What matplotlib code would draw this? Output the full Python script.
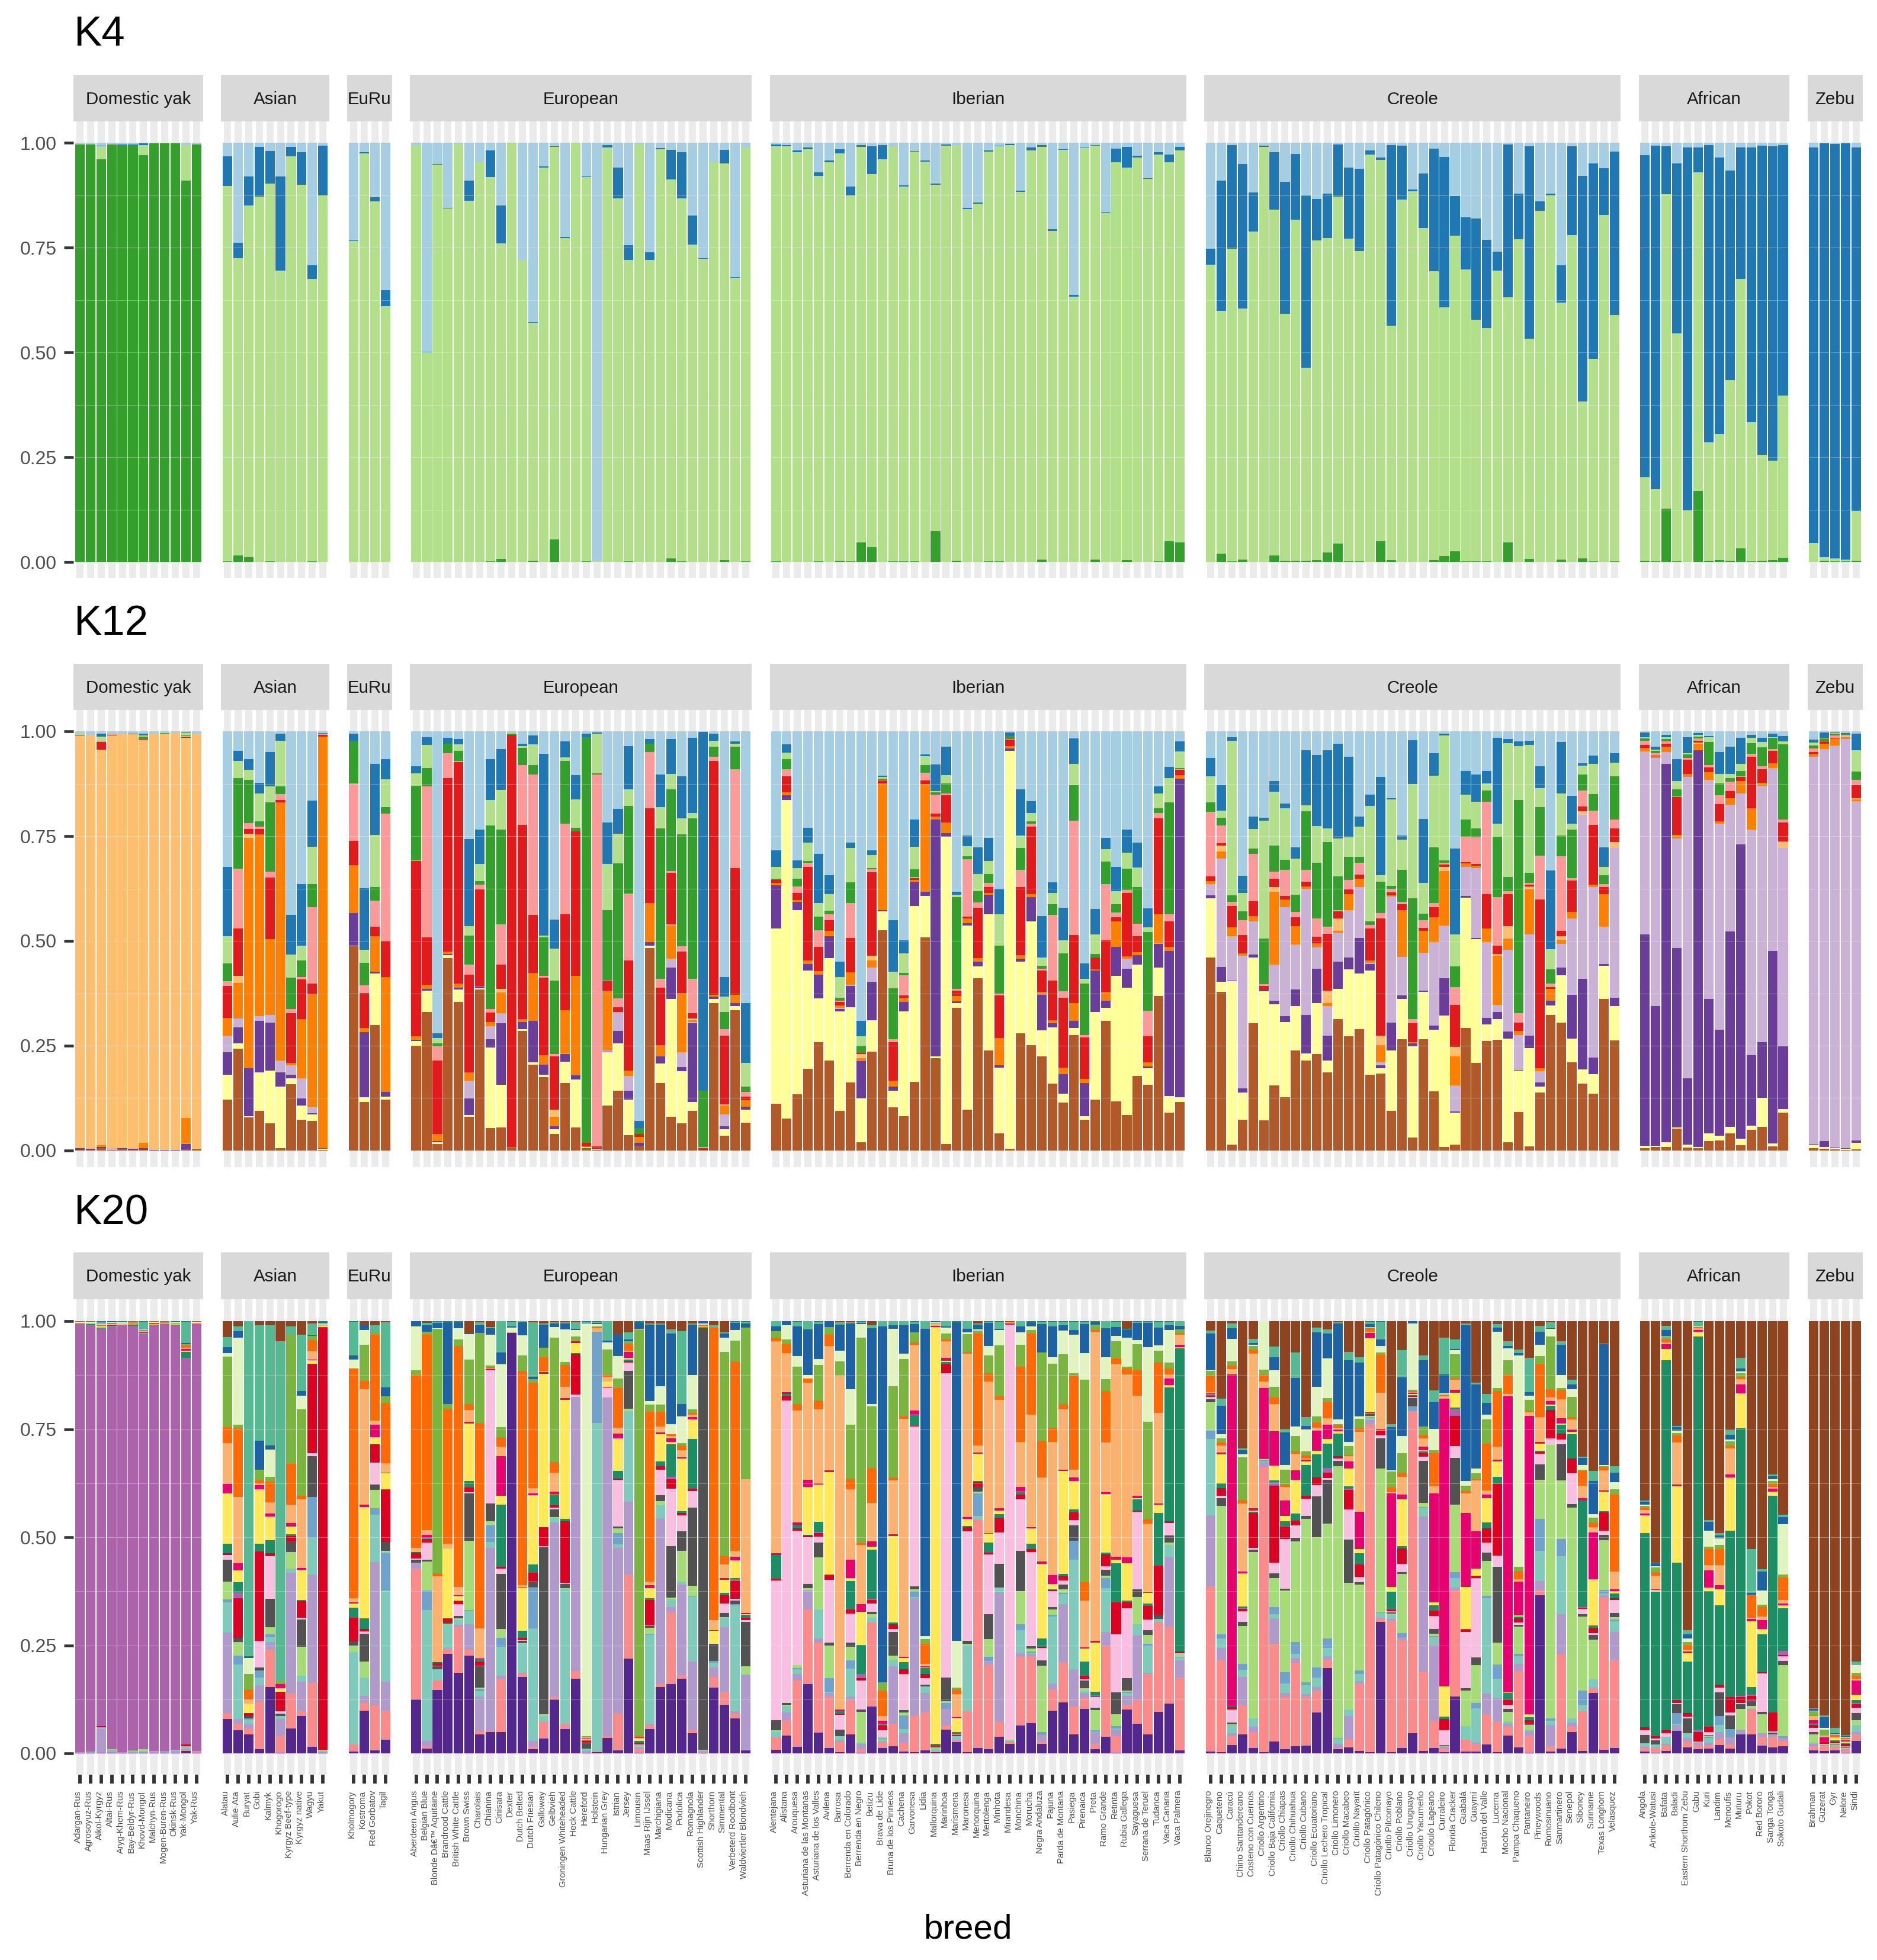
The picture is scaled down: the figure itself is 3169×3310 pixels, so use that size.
import numpy as np
import matplotlib
matplotlib.use('Agg')
import matplotlib.pyplot as plt
from matplotlib.transforms import ScaledTranslation

plt.rcParams['font.family'] = ['Liberation Sans', 'DejaVu Sans']

# breed labels per facet
groups = ['Domestic yak', 'Asian', 'EuRu', 'European', 'Iberian', 'Creole', 'African', 'Zebu']

breeds_yak = ['Adargan-Rus', 'Agrosoyuz-Rus', 'Aikol-Kyrgyz', 'Altai-Rus', 'Aryg-Khem-Rus', 'Bay-Beldyr-Rus',
              'Khovd-Mongol', 'Malchyn-Rus', 'Mogen-Buren-Rus', 'Okinsk-Rus', 'Yak-Mongol', 'Yak-Rus']
breeds_asian = ['Alatau', 'Aulie-Ata', 'Buryat', 'Gobi', 'Kalmyk', 'Khogorogo', 'Kyrgyz Beef-type',
                'Kyrgyz native', 'Wagyu', 'Yakut']
breeds_euru = ['Kholmogory', 'Kostroma', 'Red Gorbatov', 'Tagil']
breeds_european = ['Aberdeen Angus', 'Belgian Blue', 'Blonde Dâ€™ Aquitaine', 'Brandrood Cattle', 'British White Cattle',
                   'Brown Swiss', 'Charolais', 'Chianina', 'Cinisara', 'Dexter', 'Dutch Belted', 'Dutch Friesian',
                   'Galloway', 'Gelbvieh', 'Groningen Whiteheaded', 'Heck Cattle', 'Hereford', 'Holstein',
                   'Hungarian Grey', 'Istrian', 'Jersey', 'Limousin', 'Maas Rijn IJssel', 'Marchigiana', 'Modicana',
                   'Podolica', 'Romagnola', 'Scottish Highlander', 'Shorthorn', 'Simmental', 'Verbeterd Roodbont',
                   'Waldviertler Blondvieh']
breeds_iberian = ['Alentejana', 'Alistana', 'Arouquesa', 'Asturiana de las Montanas', 'Asturiana de los Valles',
                  'Avilena', 'Barrosa', 'Berrenda en Colorado', 'Berrenda en Negro', 'Betizu', 'Brava de Lide',
                  'Bruna de los Pirineos', 'Cachena', 'Garvonesa', 'Lidia', 'Mallorquina', 'Marinhoa', 'Marismena',
                  'Maronesa', 'Menorquina', 'Mertolenga', 'Minhota', 'Mirandesa', 'Monchina', 'Morucha',
                  'Negra Andaluza', 'Pajuna', 'Parda de Montana', 'Pasiega', 'Pirenaica', 'Preta', 'Ramo Grande',
                  'Retinta', 'Rubia Gallega', 'Sayaguesa', 'Serrana de Teruel', 'Tudanca', 'Vaca Canaria',
                  'Vaca Palmera']
breeds_creole = ['Blanco Orejinegro', 'Caqueteno', 'Caracú', 'Chino Santandereano', 'Costeno con Cuernos',
                 'Criollo Argentino', 'Criollo Baja California', 'Criollo Chiapas', 'Criollo Chihuahua',
                 'Criollo Cubano', 'Criollo Ecuatoriano', 'Criollo Lechero Tropical', 'Criollo Limonero',
                 'Criollo Macabeo', 'Criollo Nayarit', 'Criollo Patagónico', 'Criollo Patagónico Chileno',
                 'Criollo Pilcomayo', 'Criollo Poblano', 'Criollo Uruguayo', 'Criollo Yacumeño', 'Crioulo Lageano',
                 'Curraleiro', 'Florida Cracker', 'Guabalá', 'Guaymí', 'Hartón del Valle', 'Lucerna',
                 'Mocho Nacional', 'Pampa Chaqueno', 'Pantaneiro', 'Pineywoods', 'Romosinuano', 'Sanmartinero',
                 'Senepol', 'Siboney', 'Suriname', 'Texas Longhorn', 'Velasquez']
breeds_african = ['Angola', 'Ankole-Watusi', 'Bafata', 'Baladi', 'Eastern Shorthorn Zebu', 'Gabu', 'Kuri', 'Landim',
                  'Menoufis', 'Muturu', 'Pokot', 'Red Bororo', 'Sanga Tonga', 'Sokoto Gudali']
breeds_zebu = ['Brahman', 'Guzerat', 'Gyr', 'Nelore', 'Sindi']
breeds = [breeds_yak, breeds_asian, breeds_euru, breeds_european, breeds_iberian, breeds_creole, breeds_african,
          breeds_zebu]

# cluster colours, bottom of the stack first
colors_k4 = ['#33A02C', '#B2DF8A', '#1F78B4', '#A6CEE3']
colors_k12 = ['#B15928', '#FFFF99', '#6A3D9A', '#CAB2D6', '#FF7F00', '#FDBF6F', '#E31A1C', '#FB9A99', '#33A02C',
              '#B2DF8A', '#1F78B4', '#A6CEE3']
colors_k20 = ['#54278F', '#FB8A8A', '#AF9ACB', '#7FCBBB', '#6FA2CC', '#A5DC78', '#525252', '#F9BFE0', '#DE0020',
              '#AD63AC', '#1B8E63', '#FFE958', '#E9006F', '#FBB170', '#FF6A06', '#7AB53F', '#E1F3BE', '#1C62A5',
              '#55B993', '#8F431E']

# K4 ancestry, % per breed
k4_yak = [[99.6,0,0,.4],[99.6,0,0,.4],[96,3.2,.1,.7],[99.5,.1,.1,.3],[99.4,.1,.1,.4],[99.5,0,.1,.4],[97,2.5,.3,.2],
          [99.8,0,0,.2],[99.8,0,0,.2],[99.8,0,0,.2],[91,8.5,0,.5],[99.6,0,0,.4]]
k4_asian = [[.2,89.5,7,3.3],[1.6,70.9,3.7,23.8],[1.2,83.8,7,8],[0,87.2,11.8,1],[.1,90.2,7.7,2],[0,69.5,22.5,8],
            [0,96.7,2.3,1],[0,90,7.8,2.2],[.1,67.4,3.3,29.2],[0,87.5,11.8,.7]]
k4_euru = [[0,76.5,.2,23.3],[0,97.5,.3,2.2],[0,86,1,13],[0,61,3.8,35.2]]
k4_european = [[0,99.4,.1,.5],[0,50,.1,49.9],[0,94.8,.1,5.1],[0,84.3,.1,15.6],[0,99.7,0,.3],[0,86.2,4.8,9],
               [0,95.3,.1,4.6],[.2,91.6,6.4,1.8],[.7,75.3,9,15],[0,99.8,0,.2],[0,72,.1,27.9],[.3,56.7,.2,42.8],
               [0,94,.3,5.7],[5.3,93.7,.2,.8],[0,77.3,.3,22.4],[0,99.8,0,.2],[.1,91.7,.1,8.1],[0,.3,0,99.7],
               [0,98.9,.6,.5],[0,86.7,7.3,6],[.2,71.8,3.5,24.5],[0,99.7,0,.3],[0,72,1.8,26.2],[0,98.5,.2,1.3],
               [.8,90.4,7.1,1.7],[.1,86.6,11.1,2.2],[0,75.7,6.9,17.4],[0,72.3,.1,27.6],[0,95.3,.1,4.6],
               [.4,94.7,3.2,1.7],[0,67.8,.1,32.1],[.1,98.7,0,1.2]]
k4_iberian = [[.2,99,.4,.4],[0,99,.4,.5],[0,97.8,.4,1.8],[0,98.5,.3,1.2],[.2,91.9,.8,7.1],[0,95.3,.4,4.3],
              [.3,97.2,.9,1.6],[.2,87.2,2.2,10.4],[4.6,94.4,.5,.5],[3.5,89,6.6,.9],[0,96,3.5,.5],[.2,98.8,0,1],
              [.2,89.4,.2,10.2],[.2,97.7,.1,2],[0,95.5,.2,4.3],[7.4,82.6,.3,9.7],[0,99.3,.3,.4],[.3,99.2,0,.5],
              [0,84.2,.2,15.6],[0,85.5,.2,14.3],[.2,97.7,.2,1.9],[.2,99,.1,.7],[0,99.4,.3,.3],[0,88.3,.3,11.4],
              [0,98.2,.6,1.2],[.5,98.5,.4,.6],[0,79,.4,20.6],[0,98.3,.1,1.6],[0,63.3,.4,36.3],[0,98.9,.1,1],
              [.6,98.7,.2,.5],[0,83.3,.2,16.5],[0,95.4,3.2,1.4],[.4,93.6,5,1],[0,96.5,.4,3.1],[0,91.4,.1,8.5],
              [.2,97,.6,2.2],[4.9,90.5,1.8,2.8],[4.7,93.5,.8,1]]
k4_creole = [[0,70.9,3.8,25.3],[2,57.9,31.1,9],[.1,74.6,24.7,.6],[.6,59.9,34.4,5.1],[0,78.8,9.4,11.8],[0,99,.3,.7],
             [1.6,82.4,13.7,2.3],[.3,58.9,31.5,9.3],[.3,81.4,15.6,2.7],[.3,46,41.1,12.6],[.4,76.3,9.9,13.4],
             [2.3,74.9,10.6,12.2],[4.4,82.7,12.5,.4],[.2,76.9,16.9,6],[.2,73.9,19.7,6.2],[0,97.2,1,1.8],
             [5,90.9,.5,3.6],[.4,55.9,43.1,.6],[0,86.4,12.9,.7],[0,88.4,.4,11.2],[0,79.7,13,7.3],[.4,69,29.2,1.4],
             [1.4,59.4,35.8,3.4],[2.5,75.3,9.5,12.7],[.2,69.6,12.4,17.8],[.2,57.6,24.1,18.1],[.1,55.7,21,23.2],
             [0,69.5,4.5,26],[4.6,58.5,36.5,.4],[0,77,10.8,12.2],[.7,52.5,46,.8],[0,83.8,2.2,14],[0,87.5,.3,12.2],
             [.5,61.4,8.9,29.2],[0,78,21.2,.8],[.8,37.5,53.8,7.9],[.2,48.2,46.7,4.9],[0,82.7,11.2,6.1],
             [.2,58.8,39.1,2.1]]
k4_african = [[.3,19.9,76.8,3],[.2,17.2,81.9,.7],[12.7,75,11.5,.8],[.2,54.3,40.6,4.9],[0,12.3,86.6,1.1],
              [17,76,5.9,1.1],[.3,28.3,70.8,.6],[.4,30.1,66,3.5],[.3,43,50,6.7],[3.3,64.2,31.4,1.1],
              [.1,33.3,65.5,1.1],[.3,25.3,73.7,.7],[.4,23.7,75,.9],[1,38.7,59.7,.6]]
k4_zebu = [[0,4.5,94.4,1.1],[.3,.9,98.7,.1],[.1,.7,98.9,.3],[.1,.4,99.3,.2],[.3,11.8,86.8,1.1]]

# K12 ancestry
k12_yak = [[.2,0,.3,0,0,98.5,.2,0,0,.2,0,.6],[.2,0,.2,0,0,98.8,0,0,0,0,0,.8],[.5,0,.3,.1,.4,94,1.9,.2,.1,.9,.8,.5],
           [.2,.1,.1,0,0,98.6,.2,.2,0,0,0,.6],[.3,0,.2,0,0,99,0,0,0,0,0,.5],[.2,0,.2,0,0,98.9,.1,.1,0,0,0,.5],
           [.2,0,.4,0,1.3,96,.1,.1,.6,.2,.5,.5],[0,0,.2,0,0,99.3,0,0,0,0,0,.5],[0,0,.1,0,0,99.4,0,0,.1,0,0,.4],
           [0,0,.1,0,0,99.5,0,0,0,0,0,.4],[.3,0,1.3,.1,6,90.2,.2,.3,.1,.6,.1,.3],[.1,0,.2,0,0,99.2,0,0,0,0,0,.5]]
k12_asian = [[12.2,5.9,5.4,3.9,4.2,0,7.7,1.1,4.3,6.4,16.6,32.3],[24.3,1.3,3.8,2.1,8.5,1.6,11.4,14.3,21.6,4,2.5,4.6],
             [7.9,.3,11.5,0,54.9,.9,1.2,1.4,10.3,2.4,2.5,6.7],[9.4,9.3,12.2,1.2,43.3,0,1.3,.6,1.2,6.7,2.5,12.3],
             [6.5,12.6,11.4,1.8,18.1,0,14.7,1.4,16.5,3.8,8.2,5],[.5,14.7,3.5,2.8,61.6,0,.5,1.4,1.8,11,1.6,.6],
             [15.8,1.5,.8,2.2,.6,0,11.8,1,7.5,5.5,9.5,43.8],[7.3,3.5,1.6,4.9,14,0,9.5,.6,4,3.5,14.6,36.5],
             [7.1,1.5,.3,1.5,26.9,0,2.5,18.2,5.5,8.9,11.1,16.5],[.2,.2,.1,0,98.2,0,.4,.2,0,.1,.2,.4]]
k12_euru = [[48.7,.2,7.7,0,11.5,0,5.7,13.8,10.2,0,1.6,.6],[11.6,1.1,15.5,.1,.9,0,8.4,1.8,5.4,3.1,14.7,37.4],
            [30,12.2,.4,0,8.5,0,2.3,6.2,3.3,12.4,17,7.7],[12.2,.6,1.2,0,27.4,0,8.6,30.4,1.5,6.6,4.9,6.6]]
k12_european = [[25,1.2,.2,0,.9,0,41.9,.2,17.8,3,1.6,8.4],[33.1,5.1,.4,0,1,0,11.2,36,4.4,5.6,1.8,1.4],
                [1.5,.5,.3,0,1.6,0,17.6,3.3,.8,1.2,1.2,72],[46,.6,.3,0,.6,0,41.4,6,2.2,.1,1.4,1.5],
                [35.5,2.9,.4,0,1,0,52.9,.2,2.5,1.5,1.2,1.9],[8.1,.4,3.9,4.3,2,0,23.3,2.3,7,2.2,20.8,25.7],
                [38.5,.2,.5,0,.1,0,23.1,1.1,.9,4.1,8.1,23.5],[5.4,19.2,2,3.1,1,0,2.2,.8,43.8,6.1,9.7,6.7],
                [5.5,10.2,14.6,2.4,5,.9,5.7,9.7,22.6,9.4,9.7,4.3],[.5,0,0,0,0,.2,98.5,0,.3,.1,0,.4],
                [28.6,.4,1.7,0,.6,0,46.4,14.3,4,.5,.5,3],[20.5,.6,9.8,0,11.5,0,13.8,33.5,2.3,4.9,2.1,1],
                [17.5,.6,2.4,0,2.3,0,18.4,.4,9.2,.5,43.3,5.4],[3.9,1.2,.7,0,2.3,1.7,12.6,.6,17.6,7.5,7,44.9],
                [16.1,5.1,1.8,.2,10.3,0,22.9,21.5,15,.9,3.8,2.4],[5.5,11.5,.9,0,23.7,0,34.5,0,.9,6.8,5.7,10.5],
                [.5,.3,.1,0,.1,0,.9,0,96.7,0,.8,.6],[.2,.1,.2,0,.2,0,.3,88.7,.3,9.5,.2,.3],
                [10.8,12.6,.2,.2,14.4,0,2.2,.2,16.8,11,9.9,21.7],[14.3,11.2,3.1,4.5,0,0,1.1,2.1,32.2,7,6,18.5],
                [3.7,8.5,2.1,3.5,1.3,0,26.3,15.9,20.9,4,10.2,3.6],[1.2,0,.7,0,1.3,0,.8,0,1.3,0,1.7,93],
                [48.3,.6,.8,0,9.3,0,22.6,13.5,1.9,0,1.1,1.9],[16.1,4.6,1.8,0,2.6,0,13.8,2.1,35.9,5,7.8,10.3],
                [8.1,28.1,7.4,2.2,7.9,.3,12.2,.5,19.5,3.7,8.2,1.9],[6.5,12.4,1,3.5,14.2,0,9.8,1.3,26.7,3.9,10,10.7],
                [9.4,2.2,18.7,.3,.5,.3,1.4,8.1,38.3,1.2,17.9,1.6],[.2,0,0,0,0,0,.3,.4,13.4,0,85.5,.2],
                [35.1,1,.6,0,.4,0,55.9,.9,2.4,1.4,1.7,.6],[3.5,1.6,.7,2.8,2.2,.2,16.4,1.6,4.1,3.6,4.7,58.6],
                [33.5,1,.6,0,2,0,30.3,23.5,5.4,.7,.6,2.4],[6.7,3.1,.7,0,1.5,0,.8,1.2,1.2,5.7,14.2,64.9]]
k12_iberian = [[11.2,41.7,10.4,0,.6,0,.6,0,.4,2.8,3.9,28.4],[7.6,76,1.1,0,.8,0,3.7,1.8,2.4,1.5,2,3.1],
               [13.4,44,1.9,0,.5,0,1.6,1.6,1.9,2.5,1.8,30.8],[19.5,23.5,1.5,0,.8,0,22.4,.9,.5,4.3,3.6,23],
               [25.9,10.4,5.7,0,.8,0,5.8,4,3.2,3.3,11.6,29.3],[21.4,24.5,5.3,0,1.2,0,2.5,1.5,.8,4,4.5,34.3],
               [9.5,23.7,.6,.3,.5,0,.9,.2,.8,4.9,3.7,54.9],[16.2,17.9,5.1,.3,3,0,8.1,8.4,4.9,8.2,1.3,26.5],
               [2,10.4,8.9,0,.7,1,.3,0,1.7,2.3,3.6,69.1],[23.6,7.5,9.2,3.4,1.7,1.1,19.9,.7,.3,3.1,1.1,28.4],
               [52.4,4.5,.3,0,30.1,0,.7,.1,.3,.5,.3,10.5],[10.3,4,.9,0,1.5,0,9.1,.7,12.2,3.9,12.3,45.1],
               [8.2,25,2.3,0,1,0,.5,4.8,.6,4.6,3.1,49.9],[16.4,41.9,5.8,0,.4,0,.5,.2,1.9,5.4,6.4,21.1],
               [50.9,9.9,.9,0,25.8,0,.8,1.8,1.9,2,.5,5.5],[22,.5,56.5,0,.7,0,.7,4.5,.5,.3,6.4,7.9],
               [1.6,73.3,.8,0,2.5,0,6.6,.3,2.5,2,6.7,3.7],[34.1,1,.5,0,1.2,0,1.4,.3,21.9,.6,.7,38.3],
               [9.8,43.9,.6,0,1,0,.5,13.7,.7,2.4,2.6,24.8],[41.1,2.8,1.2,0,.8,0,12,1.3,2.7,4.1,6.3,27.7],
               [23.9,32.5,4.6,0,.5,0,1.3,1.1,2.1,3,5.6,25.4],[4.1,15.7,.6,0,6.4,0,10.2,.4,11.4,7.6,6.1,37.5],
               [.4,94.9,.6,0,.5,0,1.6,.1,.7,0,.9,.3],[28,17.1,.6,0,.9,0,16.2,4.2,5.2,2.9,11,13.9],
               [25.1,29.6,5.7,0,.7,0,16.1,.8,.6,1.9,2.9,16.6],[22.4,6.3,8.5,0,.6,0,5.2,.3,.8,2,9.9,44],
               [15.9,13.5,1,0,.7,0,9.4,15.7,2.5,2.7,2.6,36],[11.5,2.1,4.6,0,1.6,0,16.6,1.6,9.1,3,7.8,42.1],
               [27.5,1.7,1.7,0,4.2,0,16.3,27.3,8.5,5,6.1,1.7],[7.4,.8,7.9,0,1,0,9.9,.5,12.4,1,3.8,55.3],
               [12.2,20.8,9.9,0,.3,0,2.9,0,.8,4.7,6,42.4],[30.9,3.2,1.6,0,2.1,0,12.4,13.3,5.4,3,2.7,25.4],
               [11.7,29.9,7,0,6,0,1.1,1.1,1.9,3.1,5.9,32.3],[8.5,30.4,4.4,2.4,.6,0,15.1,.8,5.1,3.7,5.6,23.4],
               [17.8,26.6,2.2,0,.7,0,3.8,3,8.8,4.6,5.9,26.6],[15.7,3.9,.5,0,1,0,6.1,6.2,18.7,1.1,4.6,42.2],
               [36.8,6.8,5.7,.2,6.8,0,22.9,1.3,1.1,3.5,1.7,13.2],[9.1,3.9,34.6,0,1,0,6.1,1.7,26.6,5.9,2.6,8.5],
               [11.6,1.1,76.1,0,.9,0,1.2,.1,.4,3.9,2.4,2.4]]
k12_creole = [[46.1,14,.8,2.6,.8,0,1.1,15.4,2.3,6.2,4.3,6.4],[37.8,2.4,3.6,25.8,1.7,1.4,.6,4.3,1.8,1.7,6.1,12.8],
              [1.4,39,.1,10.6,2.2,0,5.1,.9,1.6,36.9,.8,1.4],[7.3,6.6,1,31.5,.6,0,4.4,3.5,2.1,4.5,4,34.5],
              [30.3,15.8,.7,7.8,1.3,0,3.5,11.4,1.2,4.7,3,20.3],[7.2,30.8,.3,0,0,0,1,.4,10.8,28.2,.7,20.6],
              [15.6,19.3,.9,8.5,17.4,1.1,2.1,1.6,6.2,12.9,2.6,11.8],[12.7,18,1.3,26,1.9,0,.8,6.2,2.4,12.3,1.1,17.3],
              [23.9,10.6,3.9,10.8,4.4,0,2,1.3,4.1,8.6,2.7,27.7],[21.4,1.8,9.1,30.1,.6,0,1.1,2.8,14.1,1.3,13.2,4.5],
              [23,12.1,8.2,5.2,1,0,1.5,4.4,13.2,8.8,17,5.6],[18.7,2.7,6,7.1,.6,3,13.6,1.7,20.2,3.3,18.6,4.5],
              [31.4,7.2,6.4,7,.4,3,1.7,.2,8.1,9.1,22.6,2.9],[27.3,15.9,2.9,11.3,3.7,0,1.2,2.2,5.6,4.6,19.2,6.1],
              [29,13.2,8.5,12.1,2.1,0,.9,2.8,1.5,7.1,2.4,20.4],[18.1,24.8,1.6,.3,.5,0,7.6,.9,.9,27.5,2.7,15.1],
              [18.4,1.3,.7,.7,4.1,2.2,27.9,1.3,7.5,1.6,23.4,10.9],[9.4,14.5,6.6,30.1,.3,0,.7,.8,.8,20.5,.4,15.9],
              [26.5,9.6,.9,9.2,11.2,0,1.4,.5,7.6,7.2,1,24.9],[3.1,21.7,.7,0,.4,0,4.4,1.1,28.7,27.3,10.5,2.1],
              [26.6,11.3,.3,9,5.2,0,.7,1.9,1.5,7.3,15.3,20.9],[14.1,14.7,1,19.9,6,0,2.4,1,13.2,17.1,5.4,5.2],
              [.8,31.4,8.9,12.6,12.9,1,.6,.4,.6,29.8,.4,.6],[1.4,7.6,.3,6.2,7,2.2,10.1,4.2,4.9,7.7,20.5,27.9],
              [29.2,31.1,.4,7,.8,0,.3,6.1,4,6,5.6,9.5],[20.9,29.5,.3,16.7,.6,0,.4,6.3,2.1,6.4,6.5,10.3],
              [26.1,4,1.5,18.1,3.3,0,8.1,22.1,2.7,1.7,2.9,9.5],[26.4,5,1.6,1.7,11.8,.4,1.9,11.6,14.5,3.1,20.5,1.5],
              [2,24.7,1.7,19.5,2.7,2.9,7.6,.7,3.5,31.9,.9,1.9],[9.2,9.8,.2,8.4,.9,0,2,2.3,50.8,12.8,1.2,2.4],
              [1,23.5,2.9,24.2,10.8,.6,.4,.5,2.3,30.6,1,2.2],[13.9,1.3,1,2.7,.7,0,40.3,10.4,11.6,4.6,5.1,8.4],
              [32.3,2.3,1.2,0,2.7,0,.5,.8,3.4,4.8,18.8,33.2],[30.5,11.3,1.8,5.7,1,.9,1.2,17.8,4.9,10.1,12.2,2.6],
              [21.1,5.6,10.5,18.1,1.6,0,7.5,.6,11.6,1.4,6.6,15.4],[15.9,3.4,21.7,39.1,0,.8,1.2,3.8,3.8,2.1,.6,7.6],
              [13.6,4.6,4,40.6,.6,0,14.3,3.4,3.9,7.2,2,5.8],[36.1,8,.4,8.9,7.8,0,1.6,.7,2.2,1.9,4.7,27.7],
              [26.3,8.2,2,35.7,0,1.4,3.3,2,10.4,3.2,2.3,5.2]]
k12_african = [[.5,.6,50.2,43.4,.9,0,.7,1,.5,.3,1.1,.3],[.9,.3,33.3,59.2,.4,0,.1,.6,.6,.2,.7,3.7],
               [.9,1.1,90.2,2.9,1.2,0,.7,.6,.6,.4,.6,.8],[5.2,.3,42.8,26.2,.8,0,9,.2,1.6,2.1,5.1,6.7],
               [.7,.7,15.8,71.9,.7,0,3.4,.5,.8,.3,3.8,1.4],[.5,.4,94.2,0,1.5,.3,.5,.5,.5,.3,.5,.4],
               [2.2,1.9,32,52.3,1.9,0,1.1,.6,5.5,1.1,.2,1.2],[2.4,1.2,25.2,49.2,.6,0,4,2.1,2.9,2.2,5.3,4.9],
               [4.1,1.5,46.6,30.3,1.6,0,1.6,2.3,.9,1,6.4,3.7],[1.3,1.5,70.2,12.1,3.1,0,.9,.1,1.3,1.7,6.3,1.5],
               [4.9,1,16.9,53.7,5.1,0,12.3,.8,2.5,1.3,.7,.8],[5.6,6.9,13.4,61.1,.7,0,3.2,.7,4.6,1.2,1.1,1.5],
               [1,.7,45.9,43.6,1.2,0,2.9,.5,2.7,.1,.9,.5],[9.1,.8,14.9,47.4,0,1.5,4.5,.7,18,.7,1.3,1.1]]
k12_zebu = [[.5,.9,.2,92.4,.7,0,.5,.8,.7,.7,.7,2],[.4,.5,1.3,93.5,1.3,0,.6,.2,.5,.2,1.2,.3],
            [.3,.2,.2,95.9,1.7,0,.1,.6,.4,.2,.1,.3],[.2,.2,.2,97.5,.5,.2,.1,.3,.2,.1,.1,.4],
            [.3,1.5,.6,80.8,.5,.3,3.1,1.3,1.9,5.1,4,.5]]

# K20 ancestry
k20_yak = [[.1,.2,0,0,0,0,0,0,0,99,0,.1,0,.1,0,0,.2,0,.1,.1],
           [.1,.2,0,.1,0,0,0,0,0,98.8,.1,.1,0,.1,0,.1,.2,0,.1,.1],
           [.1,0,5.5,.3,0,.1,0,0,.3,92,.2,.2,.1,.1,.2,.1,.3,.1,.3,.1],
           [.1,.1,.2,.3,.1,.1,0,0,.1,97.4,.1,.1,.2,.2,.2,.1,.1,.1,.1,.1],
           [.1,.1,.1,0,0,0,0,0,0,98.7,0,.1,0,.2,.1,0,.2,0,.1,.2],
           [.1,.2,0,.2,0,.2,0,0,.1,98,.1,.1,.1,.2,.2,.1,.1,0,.1,.1],
           [.1,.1,.1,.2,0,.4,0,0,.1,96.5,.2,.1,.2,.2,.2,.1,.2,.1,1.7,.1],
           [.1,.2,.1,.2,0,0,0,0,0,98.5,0,.1,.1,.1,.1,0,.2,0,.1,.1],
           [.1,.1,.1,.1,.1,0,0,0,0,98.5,0,.1,0,.1,.2,0,.1,0,.1,.1],
           [.1,.2,.2,.3,0,0,0,0,0,98.2,.1,.1,0,.1,.1,.1,.1,0,.2,.1],
           [.5,.2,.2,.6,0,.2,0,0,.3,89.4,1.4,.2,.5,.3,.5,.2,.1,.2,4.9,.2],
           [.2,.2,.1,0,0,0,0,0,0,98.7,0,.1,0,.1,.1,0,.2,0,.1,.1]]
k20_asian = [[7.9,1.3,18.8,6.9,.7,4.1,5.1,1.1,.4,0,2.2,11.6,2.2,9.5,3.7,16.3,.8,1.4,2.3,3.7],
             [5.4,1.4,1.1,12.6,2.1,3.1,1,0,9.2,1.4,2.3,2.7,1.7,15.3,15.9,.8,20.1,1.6,1,1.3],
             [4.4,1.4,1,1,.3,0,.5,0,.7,0,0,2.2,0,.9,2.4,3.5,3.7,.5,77.4,0],
             [.9,11,3.8,1.9,1.6,0,.6,6.2,20.7,0,1.8,12.6,1,.3,.9,2.3,0,6.7,26.7,1],
             [15.3,8.8,1.6,1.1,.7,1.7,6.5,9.9,.7,0,3,5.5,.7,2.6,4.8,1.1,6.3,1,27.7,1],
             [.1,3.9,3.9,.7,0,0,.6,.5,4.5,0,0,.9,.9,0,.1,.7,0,0,78.6,4.6],
             [5.7,8.2,27.9,1,0,3.8,2.4,0,1.3,0,.4,1.8,.8,4.2,9.5,29.9,0,0,1.8,1.3],
             [8.6,1.2,6.8,1.4,0,6.7,6.3,.4,3.8,0,.3,6.9,.5,15.9,.8,20,3.1,1.2,13,3.1],
             [1.5,14.9,25.1,8.4,9.6,0,9.4,.7,20.6,0,.1,.9,.1,1.9,2.6,1,0,.1,2.7,.6],
             [.2,0,.1,.2,0,.3,0,0,97.6,0,.1,.1,.1,.3,.1,0,.2,.3,.2,.1]]
k20_euru = [[.4,1.7,0,21.4,0,1.4,1,0,5.5,0,2.4,.9,.3,.9,53.2,0,2.1,.9,7.9,.1],
            [9.8,1.8,1.7,4.3,0,3.7,6.4,.5,.6,0,2.4,25.8,.5,26.8,1.9,8.3,3.4,1.3,0,.8],
            [.7,10.4,33.1,11,1.5,4.2,1.3,5,4.3,0,0,1.6,2.9,1,19.9,.6,0,0,1.5,1],
            [3.2,6.7,6.7,21.2,8.7,.4,2.1,0,12.1,0,.1,3.7,.1,2.2,14.1,1.4,0,2.1,15.1,.3]]
k20_european = [[12.5,30.3,1.3,0,0,0,.7,.3,1.2,0,.1,.1,.1,.9,40.1,1,10.2,1.2,0,0],
                [1.1,.6,1.2,30.2,4.6,6.7,.3,4,.9,0,.1,.1,.7,1.1,45.1,.7,.1,1.4,.6,.4],
                [14.7,2.1,.1,2.5,0,0,.8,.1,.5,0,.1,.1,.1,19.8,.8,56.5,.2,1.2,.2,.2],
                [22.9,1,.2,5.5,0,.2,.2,.1,.9,0,0,16.1,0,1,31.1,1,0,18.8,.2,.1],
                [18.6,10.8,.4,1,0,.4,.6,2.7,.8,0,.1,1.1,.1,2,55.8,1.5,2.6,1.3,.2,.1],
                [22.6,1.3,5.9,3.2,.1,16,11,.2,1.1,0,1.5,13.3,.4,2.8,1.4,10.2,5.9,.2,.1,2.7],
                [4.4,.6,8.1,1.2,.6,.2,5,.1,.9,0,.6,.1,.1,6.8,47.4,20.7,0,1.7,.7,.3],
                [4.9,.1,42.4,1.3,3.9,1,4,30.8,0,0,0,0,.2,.2,.2,.5,7.1,1.5,.2,1.4],
                [4.9,12.3,.8,6.7,2,2.1,12.7,1.2,.5,0,14.3,2.1,9.2,2.1,2.2,2.4,14.5,2.8,7.2,0],
                [97.2,.1,0,0,0,0,0,0,0,0,0,0,0,.2,.1,0,.9,.3,1,.2],
                [17.6,.8,.1,6.6,0,.2,.5,.2,.5,0,1.6,9.9,.1,.5,49.3,3.5,4.6,3,.3,0],
                [.9,.8,1.2,26.1,9.3,.1,1.3,.1,2,0,2,16,.5,1.2,24.4,.9,0,.5,12.6,.3],
                [3.5,3.9,0,1.3,0,.4,38.8,.4,4.3,0,.1,35.7,.3,.3,3.2,2.2,0,5.4,.3,.5],
                [12.4,.7,40.3,1,0,.2,1.8,.4,.6,0,2.3,.1,.7,4.5,2.4,28.7,2.5,.8,.3,.3],
                [5.6,1,0,31.1,0,.2,1,.3,14.1,0,.5,27.3,.5,2.5,5.1,.6,7.5,1.3,.3,.3],
                [17.2,1.8,63.1,0,0,0,0,.5,9.2,0,.4,2.3,.4,.1,.2,.8,1.5,.2,1.5,.3],
                [.2,.1,.3,.5,0,0,1.2,.2,.4,0,.1,.3,.1,.3,.1,.2,95.3,.1,.3,.1],
                [.3,.3,0,75.6,21.1,0,0,0,0,0,0,0,0,.8,.2,.2,.5,.3,.3,.1],
                [3.5,.4,78.2,0,0,0,0,2.4,.1,0,0,1.2,.1,1,.5,5.8,1.7,.4,4.5,0],
                [.7,8.5,38.3,.8,2.6,1.1,.5,10.8,.3,0,1.8,7.5,1.1,1.3,9.2,2.2,5.2,4.9,0,3.2],
                [21.8,19.4,16.8,21,0,.5,8.7,2,.2,0,.4,.5,1.3,.3,1.6,.6,0,.4,1.6,2.6],
                [.1,1,.2,.2,0,.1,.2,.2,.4,0,.4,.7,.2,.1,.3,93.4,.1,1.5,.2,.1],
                [5.6,1,.1,20.8,.1,1.5,.4,.2,5.9,0,.4,2.4,.6,.8,39.5,1.6,.9,17.7,.3,.5],
                [15.3,.9,38.2,3,0,1,1.3,5.9,.8,0,1.2,6.3,.4,1.3,3.4,1.7,4.2,14.3,.3,.5],
                [15.9,16.5,1.1,1.8,0,.4,11.8,13.2,2.2,.5,7.6,.5,.8,.5,.5,0,2.3,20.8,.9,1.9],
                [17.4,.8,21.1,.8,0,7.1,4.6,3.7,.6,0,.4,12.2,.3,1.7,1.1,.5,6.3,2.8,17,2.4],
                [4.8,.6,16.2,15.3,.2,2.4,18.4,3.9,.6,0,11.6,4.6,.6,.5,.5,.8,8.1,11.9,.3,.5],
                [.2,.2,.1,.2,0,.1,97.3,0,0,0,0,.1,.1,.3,.2,.1,.3,.3,.1,.1],
                [15.3,2.5,2.2,1,.5,0,3.9,0,.1,0,0,3,.1,2.4,67.9,0,0,0,.5,1],
                [11.3,2.9,15,2.2,0,.1,.9,2.2,2,0,.5,3,.4,3.2,2,47.2,3.3,.9,.3,2.6],
                [8,1.1,.6,24.4,.3,0,.9,.3,4.2,.3,.3,4.1,.9,1.3,43.7,4.8,2.5,1.6,.3,.1],
                [.7,.1,17.4,0,0,1.9,10.3,.4,.6,0,.6,.2,.2,31,.1,35,0,1,.3,.2]]
k20_iberian = [[.8,3.1,0,1.2,0,.2,2.4,32.4,.3,0,5.6,0,.4,49.1,.8,1.5,0,1,1.3,0],
               [4.1,3.6,1.8,1.4,.1,.2,.4,70,1,0,.5,.1,.4,9,2,1.1,3.4,.7,.1,.1],
               [1.5,15.3,1.6,1,.3,.7,0,31.1,.5,0,.7,0,.7,25.9,1.5,8.6,2.5,6.8,1.1,.2],
               [16,17.3,4.4,.1,0,.4,1,10.8,.4,0,.1,11.1,1.7,22.5,.9,0,.8,10.6,1.9,0],
               [4.8,20.8,1,6.7,0,12.1,3.3,1.4,.9,.2,2.3,8.7,.2,17.2,2,8.2,1.4,8.1,.5,.2],
               [1.2,11.9,.9,.3,3.1,7.5,.7,14.6,1,0,.2,23.7,.4,28.8,2.5,1.8,0,1.2,.1,.1],
               [.3,2.3,.4,.9,0,.1,1.5,3.4,.3,0,.6,0,.3,77,.1,3.2,2.5,6,.5,.3],
               [4.4,7.9,.8,6.5,1.9,3.1,1,6.7,1,0,6.6,.7,4.2,16.3,2.4,12.5,8.3,15.2,.2,.3],
               [.2,.8,1.2,.2,.1,7.1,.6,6.6,.6,1,6.7,7.6,1.8,13.7,.5,47.4,3.2,.3,.3,.1],
               [10.8,19.5,0,1.1,0,.8,.5,2,.8,.3,11.3,.7,1.2,8.9,8.1,14.3,.5,17.5,.8,.9],
               [1.2,1.4,.2,.6,.2,.2,.1,1.5,1.1,0,.2,.1,.8,1,5.9,1.9,0,82.4,1.2,0],
               [1.7,5.2,13.3,1.4,0,1,5.5,.7,1,0,.5,20,.4,12.4,.7,21.2,13.2,.9,.9,0],
               [.4,2,2.2,1,3.2,.7,.5,8.4,1,0,1.7,1,.2,55.1,.5,13.4,1.1,6.7,.9,0],
               [.3,8.4,27.4,.2,1.4,.4,.7,37.1,.1,.1,2.5,.1,1,15.2,.6,2.3,0,1.9,.5,.2],
               [.7,8.9,4.4,1.5,0,0,.4,1.5,1,0,1.3,.1,.4,.5,4.6,1.1,.7,71.1,1.8,0],
               [.3,.2,.1,.5,0,.2,.3,0,.2,0,.4,96,.2,.5,0,.2,.1,.2,0,.1],
               [5.5,.9,3.8,.1,1.4,.3,5.5,70.3,2.1,0,.5,.3,.7,3.8,.5,1.3,1.4,.2,1.3,0],
               [2.6,.4,.2,.7,0,.1,.2,.2,.1,0,.4,3.3,.1,5.4,1.1,.4,10.7,73.4,.2,.1],
               [.3,9.5,0,15.3,0,.3,.7,25.4,.9,0,.3,1.7,.3,37.9,.5,4.1,.4,.8,1.8,0],
               [1.2,52.7,0,.7,5.2,.4,1.1,0,1.1,0,.3,6.3,.3,1.6,25.7,.7,.3,1.1,.2,.6],
               [1,19.6,.6,.2,.9,4.2,5.7,13.8,.4,0,2.3,2.1,.2,35,2,4.1,2.1,5.4,.3,.1],
               [3.8,3.5,29.9,1,0,.2,5.4,7.3,3.4,0,.8,.9,.5,25.1,.8,11.8,3.6,.2,1.7,.1],
               [2.2,.4,.1,.3,0,.1,0,95.8,0,0,0,0,.3,.2,.1,0,0,0,0,.2],
               [6.5,15.9,.7,5.4,1.3,7.8,9.2,11.9,1.1,0,.6,.2,1,10.4,17.4,5.1,2.9,1.4,1.2,0],
               [6.9,15.5,.5,.3,.3,.7,.5,21.8,.6,0,1.3,3.5,.3,25.9,18.8,.8,.8,.9,.2,.1],
               [2.2,.6,1.4,0,.8,15.3,1.2,2.9,.3,0,1.9,17.2,.6,19.5,8.4,20.4,0,6.6,.6,.1],
               [9.8,5,1.4,15.4,.4,1.3,.5,3.7,.3,0,.2,1.2,2,30.8,3.3,14.8,1.5,7.2,1.1,.1],
               [11.8,9.3,13.4,2.4,.2,.8,1.1,1,1.1,0,.4,23.8,.3,14,1.2,11.5,5.5,1.3,.8,.1],
               [4.4,6.4,8.6,25.4,4.4,0,3.5,1.3,1.7,0,.7,6.6,.9,1.7,21.6,.7,9,1.1,1.9,.1],
               [10.2,2.5,1.3,.3,0,.8,1.7,.3,.8,0,3.3,3,.3,10.8,4.2,46.8,6.1,6.7,.6,.1],
               [1,1.2,2.7,.2,.3,4.6,.5,2.5,.2,.2,.8,11.4,.4,71.6,.4,1.2,0,.5,.2,.1],
               [3.8,21.1,3.2,10.1,2.4,.5,1.4,.8,2.7,0,.4,13.6,.4,11.5,11.9,2.8,5.1,6.7,1.6,0],
               [.2,3.8,1.5,.2,.6,2.8,5,13.5,7.3,0,9.1,.8,.7,44.5,1.4,4,1.2,2,1.2,.2],
               [10.1,1.2,2,.7,.2,.3,2.9,16.1,1.4,0,.4,8.7,1.3,42.4,1.3,.4,6.7,2,.1,1.8],
               [6.9,5.4,15,2.5,0,6.4,1.7,18,.3,0,2.5,.4,.5,23.2,5.8,6,1,4,.3,.1],
               [4.4,14,.3,6.2,.5,2.1,1.1,2.4,3.2,0,.5,2.5,.2,15.8,1.2,22.4,17.3,5.7,.3,.1],
               [9.6,20.7,0,.7,0,0,.8,0,11.5,0,12.2,1.9,.2,20.9,11.7,2.7,1.2,4.1,1.3,.2],
               [11.5,17.8,16.2,2.7,.1,.5,1.6,2.9,.5,0,31,.5,1.5,1,1.3,1.4,7.6,1.1,.8,.1],
               [.7,16.8,4,.6,.2,.6,0,.2,.4,0,69.9,.3,.6,2.2,.5,.8,0,.8,1.1,0]]
k20_creole = [[.4,37.8,16.2,17.5,2,6.4,.7,.5,.2,0,.2,.2,.3,.2,3.9,1,.1,8.4,.7,2.2],
              [.3,21.3,2.8,2.2,.9,29.8,1.8,.5,1.8,0,1,6.8,.4,1.6,.7,1,.9,6.6,1.7,17.9],
              [1.9,2,.7,1.9,0,.2,.4,3,.5,0,.2,0,76.4,1.2,.9,.9,5.2,2.5,1.1,.5],
              [4.4,6.8,6.4,1.6,1.4,8.7,1,2.4,.6,.1,.4,7.6,.5,15.6,.8,9.9,.7,.9,.4,29.3],
              [1.2,3.7,1.2,2,0,38.5,.5,.5,8,0,.3,.2,.6,35.8,.9,.8,.3,.5,.9,4.1],
              [.3,65.7,1.1,.3,.3,.2,0,0,0,0,.2,0,16.3,1.5,1.6,1.1,11.2,0,0,0],
              [2.8,22.6,5.8,1,1.6,6.8,1,2.5,17.8,.9,.4,3.4,7.9,6.3,1.5,2.5,3.8,3.1,2.4,5.9],
              [1,12,1,2.2,2.5,19,.3,11.5,2.9,.2,1.1,1.2,3.6,3.1,.5,3.4,1.1,7.6,.7,25],
              [1.7,19.2,1.2,.9,2.8,23.2,.9,2.9,1,0,1.7,7.8,2.2,3.8,.5,3.6,2.2,11.2,5.9,7.3],
              [1.8,11.4,.5,2,.8,37.7,.8,3.9,.7,0,7.1,.9,.4,.2,.7,1,5,.8,2.1,22.2],
              [9.5,5,.8,2.2,2.4,30.1,9.4,2.7,1.7,0,5.4,.8,4.6,.8,1.2,1.3,6.9,12.6,1.1,1.5],
              [19.7,2,.7,2,2.2,26.6,10.1,.4,1.3,1,5.7,1,3.3,1.5,3.7,1,9.2,5.7,1,1.9],
              [.9,.3,1,1.2,.2,62.6,1.3,.5,.6,0,5.2,.5,.4,.3,.7,.2,1.1,22.2,.2,.3],
              [1.4,1.8,5.4,1.6,0,29.2,10.1,6.9,4.5,.3,.6,4.1,1.6,1.3,.3,2,.9,18.9,2,7.1],
              [.5,15.7,.5,1.7,.8,19.8,.6,1.2,2.9,0,2.6,1,8.6,18.5,.8,2.2,.5,12.5,1.3,8.3],
              [.3,75.3,1,.5,.2,.3,.3,.2,.2,0,.1,16.9,1.3,.3,.7,.2,.1,.7,.6,.1],
              [30.4,.8,.2,1.1,.2,33.3,6.9,.7,1.1,0,0,.2,.2,8.4,8.8,.5,1.6,1.4,4.2,.1],
              [.3,30.3,.5,.9,0,.3,.3,.2,.4,.2,4,1,21.7,.2,1.2,3.6,.3,10,.7,23.8],
              [1.3,24.8,.8,0,.9,13.7,.4,1.9,3.6,0,.5,10.8,1.2,4.1,.9,4.6,3.9,13.6,6.3,6.7],
              [4.6,74.7,0,0,1,0,2,.2,.3,0,.1,.3,.3,.2,.2,.3,15.3,.4,.1,.1],
              [.5,18.3,36,2.1,.1,1,9.7,.9,.8,0,.5,.3,.8,1.9,.7,2,0,15.4,1,8],
              [1.2,6.3,17.6,1.7,.3,.6,1.1,3,1.2,0,1.2,.8,25.2,1.6,7.7,.7,4.9,6.1,2.8,16],
              [.3,.6,.6,.2,0,.1,.1,3.4,2.7,0,.5,7,66.8,.5,.3,.2,.3,4.3,8.6,3.8],
              [13.1,24.7,.5,2.3,1.3,15.6,10.8,2.8,7,1.6,.3,3.4,.7,2.4,.4,5.4,1,.3,2.2,4.2],
              [.4,2.8,0,3.1,0,8.2,.6,12.9,.6,0,.2,9.6,17.1,4.6,.5,1.3,1,36.1,.4,.5],
              [.4,1.8,.2,8,1.2,8.8,1.8,18.4,.3,0,.2,1.7,8.6,11.7,.3,1.4,1.1,19.4,.5,14.2],
              [2.1,6.9,4.8,22.1,.6,8,1.9,2.3,3.3,0,1.4,5.6,.8,1,10.9,5.6,1.1,2.7,2,16.9],
              [.3,7.1,5.3,4.5,3.4,5,17.5,2.7,16.5,0,1.7,3.5,.5,3,12.8,.7,13.1,.9,.8,.7],
              [4.1,2,.8,.5,0,2.2,.7,1,1.2,0,1.5,.1,68.5,.6,4.3,3.4,2.8,.6,1,4.7],
              [1.4,17.5,1.7,1.7,.6,6.3,.4,.5,.9,0,.4,.3,7.8,.5,1.9,1,48.6,.6,.8,6.5],
              [.2,4,1,.4,0,1,.2,.2,.8,0,.7,.6,69.9,.8,.3,2.6,1.1,.7,8.1,8.6],
              [36.4,1.2,2.1,6.9,7.4,9,3.6,2.4,.4,0,.3,1.7,.4,5.7,12.1,2,2.6,3,1.3,1.1],
              [.4,1.3,4.9,.9,.6,63.4,0,1.4,6.7,0,.9,.3,.8,.8,1.9,12.3,1.7,.2,1.3,.3],
              [1.1,21.8,9.3,13.4,3.9,13.6,8.3,1.1,1.4,0,2,.3,1.2,4.4,2.2,.5,2.9,7,.8,4.7],
              [4.9,1.2,1,1,0,48.8,.8,7.1,3.4,0,5.7,.5,.5,2.4,.5,4.7,1.7,1.1,1.2,13.5],
              [.5,9.3,0,1.5,3.2,17.3,.5,1.2,.2,.2,24.7,.1,.5,2.9,3.5,.2,1.1,1.6,.3,31.5],
              [14,1.1,.1,2,0,9.2,1.1,.3,1.3,0,.5,10.8,10.8,1.2,1.2,1,.9,7.7,2.3,34.7],
              [.8,35.2,.5,.5,.8,11.5,1.2,1,4.2,0,.3,4.5,.3,4.6,.7,.3,.3,27.8,.2,5.2],
              [1.2,20.4,6.5,2.5,.3,.6,1,3,.4,0,1.1,.5,.5,4,17.8,1.3,1.7,2.2,1.5,33.5]]
k20_african = [[.4,.8,.3,.9,0,0,1.8,1.2,.7,0,44.9,4.2,.4,.8,.5,.5,.2,.7,.3,41.6],
               [.2,1,.2,.7,0,0,.9,.4,.5,0,33.3,.5,.1,3.1,.9,1,.3,.7,.2,55.6],
               [.5,1.4,.3,1.7,0,0,0,.7,.8,0,85.5,2.7,1,.5,.8,.4,.1,1.6,.9,1.1],
               [5.2,0,1.4,.3,2.4,0,2.1,.3,.6,0,31.8,17.8,.3,9.8,1.6,.6,.5,.9,.2,24.3],
               [1.4,1.4,.8,1,0,.1,3.4,.4,.8,0,12,1.8,.4,.5,1.1,.7,.8,1,.9,71.5],
               [.9,1,.4,.4,0,0,0,0,2.2,.6,90.8,1.1,.5,.4,.2,0,.1,.1,1,.2],
               [1.1,.8,.5,1.2,.3,.2,.2,.7,1.1,0,31.4,.9,3.9,1.2,3.8,.5,3.7,2,.5,46],
               [1.9,1.3,1.7,1.7,2,0,5.5,1.1,.7,0,18.3,3.7,1,4.7,3.7,.9,1.5,.7,.6,49],
               [1.1,.9,1.6,0,2,0,3.1,.7,3.5,0,38.2,12.2,.7,5.9,.7,.9,.5,1,1.1,25],
               [4.4,0,1.1,0,0,4.8,1.1,.2,1.4,.3,61.8,8.1,2,1.3,.6,.8,.4,.6,2.5,8.5],
               [4.4,5.6,.2,.1,0,.6,1.1,.2,1.1,.2,1.8,15.2,.5,.3,5.4,0,0,.4,10,52.7],
               [1.8,2.1,.8,0,0,4.4,.5,8.9,.3,0,8.7,1.3,2,.8,2.3,.4,3.3,4.4,.6,57.3],
               [1.4,2.4,.4,.1,0,0,.4,.3,4.3,0,49.8,.9,.7,.4,.8,.5,.5,.7,.3,35.2],
               [1.7,1.1,.8,0,.3,16.5,.9,1.1,.3,.9,9.9,.7,.4,.8,5.2,.7,11.6,1.6,.6,44.6]]
k20_zebu = [[.7,1,.5,.2,0,2,.6,.9,.7,0,.1,.2,.8,.9,.2,.9,.2,.4,.1,89.6],
            [.5,1.2,.2,.1,0,.1,0,.1,.4,0,.1,.1,1,.3,.1,1.3,.5,2.5,.4,92],
            [.7,.8,.2,.2,0,.1,.2,.1,.5,0,.2,.5,.1,.3,.3,.1,.1,.2,1.3,94.1],
            [.2,.5,.2,.2,0,.2,.1,.3,.5,0,.1,.5,.2,.3,.2,.1,.1,.4,.1,95.8],
            [2.9,1.5,.5,1.6,0,1.2,1.6,1.3,.8,.2,.7,1.2,3.3,.5,.6,.7,2,.1,.6,78.7]]

titles = ['K4', 'K12', 'K20']
row_data = [[k4_yak, k4_asian, k4_euru, k4_european, k4_iberian, k4_creole, k4_african, k4_zebu],
            [k12_yak, k12_asian, k12_euru, k12_european, k12_iberian, k12_creole, k12_african, k12_zebu],
            [k20_yak, k20_asian, k20_euru, k20_european, k20_iberian, k20_creole, k20_african, k20_zebu]]
row_colors = [colors_k4, colors_k12, colors_k20]

# layout in output pixels
W, H = 3169, 3310
left0 = 124
unit = 17.94
gap = 30.2
# strip top, panel top, y=1 pixel, y=0 pixel, panel bottom, title centre
rows_px = [(127, 205, 241, 949, 976, 59),
           (1121, 1199, 1235, 1943, 1971, 1054),
           (2115, 2194, 2231, 2961, 2997, 2049)]


def px_axes(fig, x0, y0, x1, y1):
    return fig.add_axes([x0 / W, 1 - y1 / H, (x1 - x0) / W, (y1 - y0) / H])


fig = plt.figure(figsize=(W / 300, H / 300), dpi=300, facecolor='white')
label_shift = ScaledTranslation(-3 / 300, 0, fig.dpi_scale_trans)

for r in range(3):
    strip_top, panel_top, y1_px, y0_px, panel_bot, title_y = rows_px[r]
    colors = row_colors[r]
    fig.text(left0 / W, 1 - title_y / H, titles[r], fontsize=17, color='black', ha='left', va='center')
    x0 = left0
    for g in range(len(groups)):
        names = breeds[g]
        data = row_data[r][g]
        n = len(names)
        assert len(data) == n, (titles[r], g, len(data))
        for i, bar in enumerate(data):
            assert len(bar) == len(colors), (titles[r], g, i, len(bar))
        x1 = x0 + (n + 0.2) * unit

        # facet strip
        st = px_axes(fig, x0, strip_top, x1, panel_top)
        st.set_facecolor('#D9D9D9')
        st.set_xticks([])
        st.set_yticks([])
        for s in st.spines.values():
            s.set_visible(False)
        st.text(0.5, 0.475, groups[g], transform=st.transAxes, ha='center', va='center', fontsize=7.1,
                color='#1A1A1A', clip_on=True)

        # panel
        ax = px_axes(fig, x0, panel_top, x1, panel_bot)
        vals = np.array(data, dtype=float)
        vals = vals / vals.sum(axis=1, keepdims=True)
        xs = np.arange(1, n + 1)
        bottom = np.zeros(n)
        for c in range(vals.shape[1]):
            ax.bar(xs, vals[:, c], bottom=bottom, width=0.9, color=colors[c], linewidth=0, zorder=2)
            bottom += vals[:, c]
        # faint gridlines showing through the bars
        for yy in [0.125, 0.25, 0.375, 0.5, 0.625, 0.75, 0.875]:
            ax.axhline(yy, color='white', lw=0.25, alpha=0.3, zorder=3)

        scale = y0_px - y1_px
        ax.set_xlim(0.4, n + 0.6)
        ax.set_ylim(-(panel_bot - y0_px) / scale, 1 + (y1_px - panel_top) / scale)
        ax.set_axisbelow(True)
        ax.set_xticks(xs)
        ax.grid(axis='x', color='#EBEBEB', lw=2.9, zorder=0)
        for s in ax.spines.values():
            s.set_visible(False)

        if r == 2:
            ax.set_xticklabels(names, rotation=90, ha='center', va='top', fontsize=3.6, color='#4D4D4D')
            ax.tick_params(axis='x', length=3.6, width=1.4, color='#333333', pad=2.8)
            for lab in ax.get_xticklabels():
                lab.set_transform(lab.get_transform() + label_shift)
        else:
            ax.set_xticklabels([])
            ax.tick_params(axis='x', length=0)

        ax.set_yticks([0, 0.25, 0.5, 0.75, 1])
        if g == 0:
            ax.set_yticklabels(['0.00', '0.25', '0.50', '0.75', '1.00'], fontsize=7.7, color='#4D4D4D')
            ax.tick_params(axis='y', length=3.8, width=1.1, color='#333333', pad=3)
        else:
            ax.set_yticklabels([])
            ax.tick_params(axis='y', length=0)

        x0 = x1 + gap

fig.text(1634 / W, 1 - 3258 / H, 'breed', fontsize=14, color='black', ha='center', va='center')

fig.savefig('out.png', dpi=300, facecolor='white')
